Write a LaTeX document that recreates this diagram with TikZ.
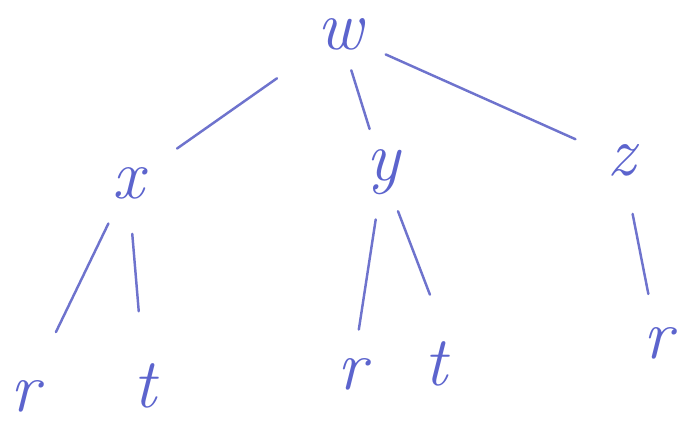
\documentclass[tikz,border=0pt]{standalone}
\usepackage{fontspec}
\usepackage{xcolor}
\definecolor{hand}{RGB}{92,100,205}
\definecolor{handline}{RGB}{110,115,205}
\begin{document}
\begin{tikzpicture}[x=0.02cm,y=-0.02cm,
  lbl/.style={text=hand,inner sep=0pt,font=\fontsize{40}{46}\selectfont\itshape},
  edge/.style={draw=handline,line width=1.4pt,line cap=round}]
\useasboundingbox (0,0) rectangle (680,426);
\node[lbl] (w) at (340,34) {w};
\node[lbl] (x) at (128,183) {x};
\node[lbl] (y) at (383,172) {y};
\node[lbl] (z) at (622,160) {z};
\node[lbl] (r1) at (25,396) {r};
\node[lbl] (t1) at (145,386) {t};
\node[lbl] (r2) at (352,374) {r};
\node[lbl] (t2) at (436,364) {t};
\node[lbl] (r3) at (658,343) {r};
\draw[edge,shorten <=1.54cm,shorten >=1.2cm] (w.center) -- (x.center);
\draw[edge,shorten <=0.76cm,shorten >=0.9cm] (w.center) -- (y.center);
\draw[edge,shorten <=1.0cm,shorten >=1.02cm] (w.center) -- (z.center);
\draw[edge,shorten <=0.9cm,shorten >=1.42cm] (x.center) -- (r1.center);
\draw[edge,shorten <=1.02cm,shorten >=1.5cm] (x.center) -- (t1.center);
\draw[edge,shorten <=0.96cm,shorten >=0.9cm] (y.center) -- (r2.center);
\draw[edge,shorten <=0.84cm,shorten >=1.0cm] (y.center) -- (t2.north east);
\draw[edge,shorten <=1.1cm,shorten >=1.0cm] (z.center) -- (r3.center);
\end{tikzpicture}
\end{document}
